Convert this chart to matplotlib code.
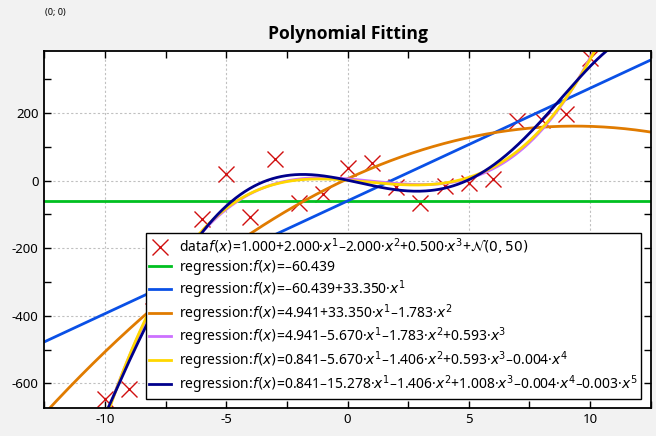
import matplotlib
matplotlib.use("Agg")
import matplotlib.pyplot as plt
import numpy as np

plt.rcParams['font.family'] = ['Noto Sans', 'DejaVu Sans']
plt.rcParams['mathtext.fontset'] = 'dejavusans'
plt.rcParams['axes.unicode_minus'] = False

# data points (x = -10 .. 10)
data_x = [-10, -9, -8, -7, -6, -5, -4, -3, -2, -1, 0, 1, 2, 3, 4, 5, 6, 7, 8, 9, 10]
data_y = [-646, -616, -385, -278, -113, 20, -109, 64, -67, -40, 38, 53, -20, -68, -15, -6, 5, 176, 179, 197, 361]

# generating polynomial of the data
true_coef = [1.0, 2.0, -2.0, 0.5]

# regression coefficients (c0, c1, c2, ...) as given in the legend
fit_coefs = [
    [-60.439],
    [-60.439, 33.350],
    [4.941, 33.350, -1.783],
    [4.941, -5.670, -1.783, 0.593],
    [0.841, -5.670, -1.406, 0.593, -0.0038],
    [0.841, -15.278, -1.406, 1.008, -0.0038, -0.0034],
]
fit_colors = ['#00c020', '#0a50e6', '#e07b00', '#cc70ff', '#ffd700', '#00008c']

x_ticks = [-10, -5, 0, 5, 10]
y_ticks = [-600, -400, -200, 0, 200]


def poly_label(coefs):
    s = '{:.3f}'.format(coefs[0]).replace('-', '–')
    for k, c in enumerate(coefs[1:], start=1):
        sign = '+' if c >= 0 else '–'
        s += sign + '{:.3f}'.format(abs(c)) + '·$x^{%d}$' % k
    return '$f(x)$=' + s


fig = plt.figure(figsize=(6.56, 4.36), dpi=100)
fig.patch.set_facecolor('#f2f2f2')
ax = fig.add_axes([0.0675, 0.0649, 0.9245, 0.8181])

ax.plot(data_x, data_y, linestyle='none', marker='x', markersize=11,
        markeredgewidth=1.0, color='#d01010',
        label='data' + poly_label(true_coef) + '+$\\mathcal{N}(0, 50)$')

xs = np.linspace(-12.5, 12.5, 400)
for coefs, col in zip(fit_coefs, fit_colors):
    ys = np.polyval(coefs[::-1], xs)
    ax.plot(xs, ys, color=col, linewidth=2.0, label='regression:' + poly_label(coefs))

ax.set_xlim(-12.5, 12.5)
ax.set_ylim(-672, 383)
ax.set_xticks(x_ticks)
ax.set_yticks(y_ticks)
ax.set_xticks(np.arange(-12.5, 12.6, 2.5), minor=True)
ax.set_yticks(np.arange(-600, 383, 100), minor=True)
ax.tick_params(which='both', direction='in', top=True, right=True, length=5, width=1,
               labelsize=9.5, pad=4)
ax.grid(True, which='major', color='#c0c0c0', linestyle=(0, (2, 2)), linewidth=0.8)
ax.set_axisbelow(True)
for sp in ax.spines.values():
    sp.set_linewidth(1.3)

leg = ax.legend(loc='lower right', bbox_to_anchor=(0.984, 0.024), borderaxespad=0,
                fontsize=10.0, frameon=True, fancybox=False, framealpha=1,
                edgecolor='black', handlelength=1.6, labelspacing=0.08,
                handletextpad=0.55, borderpad=0.25)
leg.get_frame().set_linewidth(1.0)

fig.text(347.5 / 656, 1 - 34 / 436, 'Polynomial Fitting', ha='center', va='center',
         fontsize=12.6, fontweight='bold', family=['Open Sans', 'DejaVu Sans'])
fig.text(45 / 656, 1 - 13 / 436, '(0; 0)', ha='left', va='center', fontsize=6.5)

plt.savefig('out.png', dpi=100, facecolor=fig.get_facecolor())
plt.close()
